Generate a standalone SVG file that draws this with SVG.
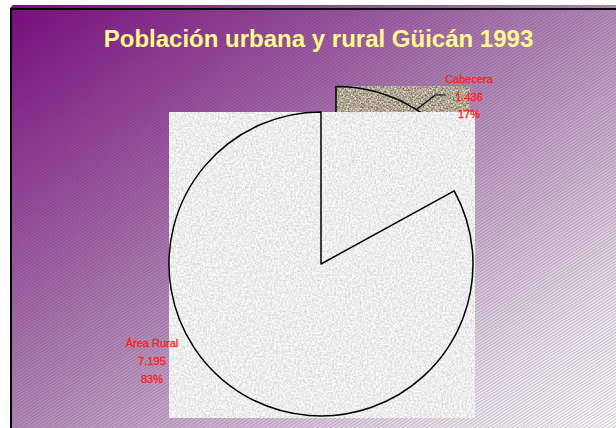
<svg xmlns="http://www.w3.org/2000/svg" width="616" height="428" viewBox="0 0 616 428">
<style>
.lbl{font-family:"Liberation Sans",Arial,sans-serif;font-size:11px;fill:#ff1f1f;stroke:#ff1f1f;stroke-width:0.35;text-anchor:middle}
.title{font-family:"Liberation Sans",Arial,sans-serif;font-size:24px;font-weight:bold;fill:#fdfb8e;text-anchor:middle}
.outline{fill:none;stroke:#000;stroke-width:1.5;stroke-linejoin:round}
.leader{fill:none;stroke:#000;stroke-width:1.2}
</style>
<defs>
<linearGradient id="bg" x1="0" y1="0" x2="1" y2="1">
<stop offset="0" stop-color="#7c0a82"/>
<stop offset="0.5" stop-color="#b68cbc"/>
<stop offset="0.85" stop-color="#eee8f0"/>
<stop offset="1" stop-color="#ffffff"/>
</linearGradient>
<pattern id="hatch" patternUnits="userSpaceOnUse" width="8" height="2.6" patternTransform="rotate(-33)">
<rect x="0" y="0" width="8" height="1" fill="#3a2a3a" fill-opacity="0.26"/>
</pattern>
<clipPath id="aboveSquare">
<rect x="300" y="60" width="200" height="52"/>
</clipPath>
<filter id="graniteLight" x="0" y="0" width="1" height="1" color-interpolation-filters="sRGB">
<feTurbulence type="fractalNoise" baseFrequency="0.55" numOctaves="2" seed="3" result="t"/>
<feColorMatrix in="t" type="matrix" values="0.3 0 0 0 0.78  0.3 0 0 0 0.78  0.3 0 0 0 0.78  0 0 0 0 1" result="c"/>
<feComposite in="c" in2="SourceGraphic" operator="in"/>
</filter>
<filter id="graniteBrown" x="0" y="0" width="1" height="1" color-interpolation-filters="sRGB">
<feTurbulence type="fractalNoise" baseFrequency="0.6" numOctaves="2" seed="7" result="t"/>
<feColorMatrix in="t" type="matrix" values="0.9 0 0 0 0.24  0.9 0 0 0 0.2  0.9 0 0 0 0.13  0 0 0 0 1" result="c"/>
<feComposite in="c" in2="SourceGraphic" operator="in"/>
</filter>
</defs>
<rect width="616" height="428" fill="#ffffff"/>
<path d="M13,5 H616 V428 H10 V8 Z" fill="url(#bg)"/>
<path d="M13,5 H616 V428 H10 V8 Z" fill="url(#hatch)"/>
<path d="M11,428 V9 H616" fill="none" stroke="#000" stroke-width="2"/>
<text class="title" x="318.5" y="47">Población urbana y rural Güicán 1993</text>
<g id="slice-cabecera" clip-path="url(#aboveSquare)">
<rect x="336" y="86" width="134" height="153" fill="#b0a696" filter="url(#graniteBrown)"/>
<path class="outline" d="M336,238.6 L336,86.6 A152,152 0 0,1 469.2,165.4 Z"/>
</g>
<g id="slice-rural">
<rect x="169" y="112" width="306" height="306" fill="#ececec" filter="url(#graniteLight)"/>
<path class="outline" d="M321,264 L321,112 A152,152 0 1,0 454.2,190.8 Z"/>
</g>
<g id="connectors">
<path class="leader" d="M416,110 L435,95 H446"/>
</g>
<g id="label-cabecera">
<text class="lbl" x="469" y="83">Cabecera</text>
<text class="lbl" x="469" y="101">1.436</text>
<text class="lbl" x="469" y="118">17%</text>
</g>
<g id="label-rural">
<text class="lbl" x="152" y="347">Área Rural</text>
<text class="lbl" x="152" y="365">7.195</text>
<text class="lbl" x="152" y="383">83%</text>
</g>
</svg>
